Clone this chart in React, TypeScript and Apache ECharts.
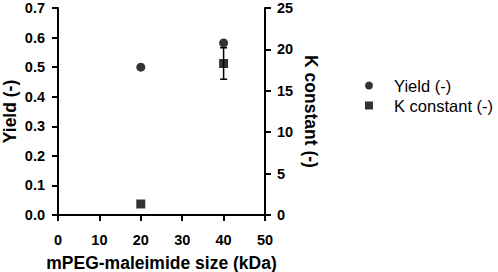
import React, { useEffect, useRef } from "react";
import * as echarts from "echarts";

const sizes = [20, 40];
const yieldValues = [0.5, 0.582];
const kValues = [1.33, 18.3];
const kErrors = [0, 1.9];
const seriesNames = ["Yield (-)", "K constant (-)"];
const xAxisTitle = "mPEG-maleimide size (kDa)";
const yAxisTitle = "Yield (-)";
const y2AxisTitle = "K constant (-)";

const FONT = "Arial, 'Liberation Sans', Helvetica, sans-serif";
const SQUARE = "path://M0,0L10,0L10,10L0,10Z";

export default function App() {
  const ref = useRef<HTMLDivElement>(null);
  useEffect(() => {
    if (!ref.current) return;
    const chart = echarts.init(ref.current, undefined, { renderer: "svg" });
    const axisCommon = {
      axisLine: { show: true, onZero: false, lineStyle: { color: "#000", width: 2 } },
      axisTick: { show: true, inside: false, length: 6, lineStyle: { color: "#000", width: 2 } },
      splitLine: { show: false },
      nameLocation: "middle" as const,
      nameTextStyle: { color: "#000", fontSize: 17.5, fontWeight: "bold", fontFamily: FONT },
    };
    const tickFont = { color: "#000", fontSize: 14.5, fontWeight: "bold", fontFamily: FONT };
    chart.setOption({
      animation: false,
      backgroundColor: "#fff",
      textStyle: { fontFamily: FONT },
      grid: {
        left: 58,
        right: 233,
        top: 8,
        bottom: 57,
        containLabel: false,
        outerBoundsMode: "none",
      },
      legend: {
        orient: "vertical",
        left: 360,
        top: 72,
        itemWidth: 40,
        itemHeight: 8,
        itemGap: 3,
        symbolKeepAspect: true,
        data: [
          { name: seriesNames[0], icon: "circle" },
          { name: seriesNames[1], icon: SQUARE },
        ],
        textStyle: { color: "#000", fontSize: 16.5, fontFamily: FONT },
      },
      xAxis: {
        type: "value",
        min: 0,
        max: 50,
        interval: 10,
        name: xAxisTitle,
        nameGap: 39,
        ...axisCommon,
        axisLabel: { ...tickFont, margin: 17 },
      },
      yAxis: [
        {
          type: "value",
          min: 0,
          max: 0.7,
          interval: 0.1,
          name: yAxisTitle,
          nameGap: 39,
          nameRotate: 90,
          ...axisCommon,
          axisLabel: { ...tickFont, margin: 13, formatter: (v: number) => v.toFixed(1) },
        },
        {
          type: "value",
          position: "right",
          min: 0,
          max: 25,
          interval: 5,
          name: y2AxisTitle,
          nameGap: 37,
          nameRotate: -90,
          alignTicks: false,
          ...axisCommon,
          axisLabel: { ...tickFont, margin: 12 },
        },
      ],
      series: [
        {
          type: "custom",
          yAxisIndex: 1,
          z: 1,
          silent: true,
          data: sizes.map((x, i) => [x, kValues[i], kErrors[i]]),
          encode: { x: 0, y: 1 },
          renderItem: (params: any, api: any) => {
            const x = api.value(0);
            const y = api.value(1);
            const e = api.value(2);
            if (!e) return { type: "group", children: [] };
            const top = api.coord([x, y + e]);
            const bot = api.coord([x, y - e]);
            const hw = 3.5;
            const style = { stroke: "#000", lineWidth: 1.5 };
            return {
              type: "group",
              children: [
                { type: "line", shape: { x1: top[0], y1: top[1], x2: bot[0], y2: bot[1] }, style },
                { type: "line", shape: { x1: top[0] - hw, y1: top[1], x2: top[0] + hw, y2: top[1] }, style },
                { type: "line", shape: { x1: bot[0] - hw, y1: bot[1], x2: bot[0] + hw, y2: bot[1] }, style },
              ],
            };
          },
        },
        {
          name: seriesNames[0],
          type: "scatter",
          yAxisIndex: 0,
          z: 3,
          symbol: "circle",
          symbolSize: 9,
          itemStyle: { color: "#000" },
          data: sizes.map((x, i) => [x, yieldValues[i]]),
        },
        {
          name: seriesNames[1],
          type: "scatter",
          yAxisIndex: 1,
          z: 3,
          symbol: SQUARE,
          symbolSize: 9,
          itemStyle: { color: "#000" },
          data: sizes.map((x, i) => [x, kValues[i]]),
        },
      ],
    });
    return () => chart.dispose();
  }, []);
  return (
    <div
      ref={ref}
      style={{ position: "fixed", left: 0, top: 0, width: 498, height: 272, background: "#fff" }}
    />
  );
}
